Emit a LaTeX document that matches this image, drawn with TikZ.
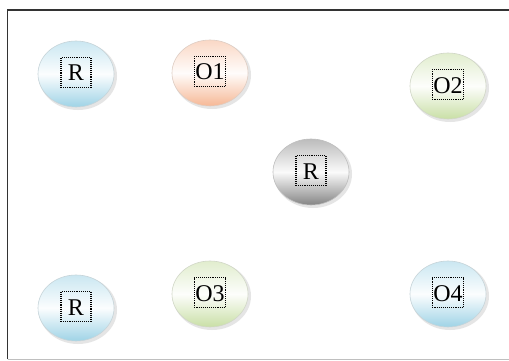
\documentclass[tikz,border=0pt]{standalone}
\usepackage{fontspec}
\setmainfont{Liberation Serif}
\usetikzlibrary{shapes.geometric}
\definecolor{blueC}{HTML}{9FD3E6}
\definecolor{orangeC}{HTML}{F6B896}
\definecolor{greenC}{HTML}{C9DFA6}
\definecolor{greyC}{HTML}{858585}
\tikzset{
  ball/.style={ellipse, minimum width=76pt, minimum height=66pt, inner sep=0pt,
    draw=#1!70!black!40, line width=0.6pt,
    top color=#1!55!white, bottom color=#1, middle color=white!96!#1},
  lbl/.style={draw=black, densely dotted, line width=1.1pt, inner ysep=0pt, inner xsep=1pt,
    minimum width=30pt, minimum height=30pt, text height=17pt, text depth=0pt,
    font=\fontsize{24pt}{24pt}\selectfont},
  shade/.style={ellipse, minimum width=78pt, minimum height=68pt, fill=black!10, draw=none}
}
\begin{document}
\begin{tikzpicture}[x=1pt,y=1pt]
\useasboundingbox (0,0) rectangle (509,-361);
\fill[white] (0,0) rectangle (509,-361);
\draw[black!80, line width=1.2pt] (7.5,-359) -- (7.5,-10) -- (509,-10);
\draw[black!25, line width=0.8pt] (7.5,-359) -- (509,-359);
\foreach \x/\y in {76/74,210/73,448/86,311/172,76/308,210/294,448/294}{
  \node[shade] at (\x+2,-\y-2) {};
}
\node[ball=blueC] (r1) at (76,-74) {};
\node[ball=orangeC] (o1) at (210,-73) {};
\node[ball=greenC] (o2) at (448,-86) {};
\node[ball=greyC] (rc) at (311,-172) {};
\node[ball=blueC] (r2) at (76,-308) {};
\node[ball=greenC] (o3) at (210,-294) {};
\node[ball=blueC] (o4) at (448,-294) {};
\foreach \n/\t in {r1/R,o1/O1,o2/O2,rc/R,r2/R,o3/O3,o4/O4}{
  \node[lbl] (\n t) at ([yshift=1.5pt]\n.center) {\t};
}
\end{tikzpicture}
\end{document}
